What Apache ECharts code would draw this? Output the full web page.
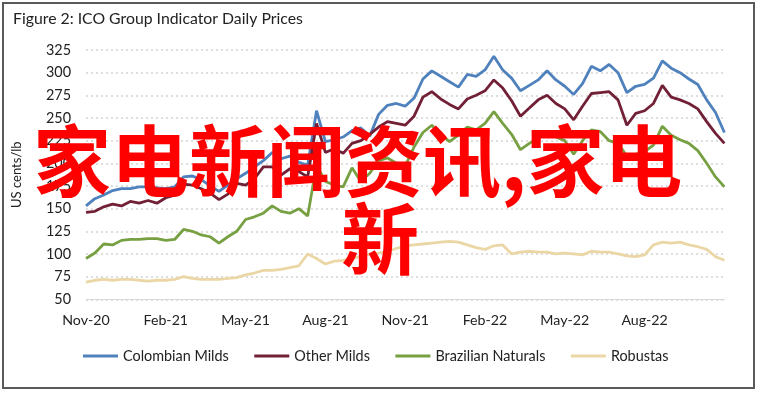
<!DOCTYPE html>
<html><head><meta charset="utf-8">
<script src="https://cdn.jsdelivr.net/npm/echarts@6/dist/echarts.min.js"></script>
<style>html,body{margin:0;padding:0;background:#fff}#c{width:759px;height:393px}</style>
</head><body><div id="c"></div>
<script>
// Tick labels every 3 months, starting Nov-20 (month index 0)
const tickLabels = ['Nov-20','Feb-21','May-21','Aug-21','Nov-21','Feb-22','May-22','Aug-22'];
const seriesNames = ['Colombian Milds','Other Milds','Brazilian Naturals','Robustas'];
const seriesColors = ['#4F81BD','#722035','#77A043','#EBD6A6'];
// Sampled roughly every 1/3 month (about 10 days), Nov-2020 .. end Oct-2022
const colombianMilds = [153,161,165,170,172,172,174,174,173,172,174,185,186,182,175,169,176,183,189,196,203,212,205,208,201,198,258,224,226,229,236,239,230,254,264,266,263,272,293,302,296,290,284,298,296,303,318,303,294,280,286,292,302,292,285,276,288,307,302,309,300,278,285,287,294,313,305,300,293,287,270,256,234];
const otherMilds = [146,147,152,155,153,158,156,159,156,162,165,177,176,172,167,160,166,178,176,183,196,196,187,194,191,185,244,212,216,211,222,225,232,240,246,244,242,252,273,279,271,265,260,271,275,280,292,283,269,252,261,270,275,266,260,248,263,277,278,279,270,242,255,258,266,286,273,270,266,260,246,233,222];
const brazilianNaturals = [95,101,111,110,115,116,116,117,117,115,116,127,125,121,119,112,119,125,138,141,145,153,147,145,150,142,198,180,176,174,195,180,189,203,206,200,197,218,234,242,232,224,231,240,237,244,257,244,232,215,222,228,233,229,225,210,225,237,235,225,222,208,210,213,220,241,231,226,222,214,200,185,174];
const robustas = [69,71,72,71,72,72,71,70,71,71,72,75,73,72,72,72,73,74,77,79,82,82,83,85,87,100,95,89,92,93,95,97,100,101,103,106,109,110,111,112,113,114,113,110,107,105,109,110,100,102,103,102,102,100,101,100,99,103,102,102,100,98,97,99,110,113,112,113,110,108,105,97,93];
const stepMonths = 1/3;
const overlayLine1 = '家电新闻资讯,家电';
const overlayLine2 = '新';

const allValues = [colombianMilds, otherMilds, brazilianNaturals, robustas];
const toPairs = arr => arr.map((v, i) => [i * stepMonths, v]);

const chart = echarts.init(document.getElementById('c'));
const font = 'Lato, "Open Sans", sans-serif';
chart.setOption({
  animation: false,
  backgroundColor: '#fff',
  title: {
    text: 'Figure 2: ICO Group Indicator Daily Prices',
    left: 8, top: 6,
    textStyle: { fontFamily: font, fontSize: 15.8, fontWeight: 'normal', color: '#222' }
  },
  grid: { left: 86, right: 34.6, top: 50, bottom: 93.7 },
  legend: {
    data: seriesNames,
    left: 78, top: 344,
    icon: 'rect', itemWidth: 35, itemHeight: 3, itemGap: 25.5,
    textStyle: { fontFamily: font, fontSize: 14.4, color: '#222' }
  },
  xAxis: {
    type: 'value', min: 0, max: 24, interval: 3,
    axisLine: { show: true, lineStyle: { color: '#d9d9d9', width: 1 } },
    axisTick: { show: false },
    splitLine: { show: false },
    axisLabel: {
      fontFamily: font, fontSize: 14.2, color: '#222', margin: 14,
      showMaxLabel: false,
      formatter: v => tickLabels[Math.round(v / 3)] || ''
    }
  },
  yAxis: {
    type: 'value', min: 50, max: 325, interval: 25,
    name: 'US cents/lb', nameLocation: 'middle', nameGap: 63, nameRotate: 90,
    nameTextStyle: { fontFamily: font, fontSize: 13, color: '#222' },
    axisLine: { show: false }, axisTick: { show: false },
    axisLabel: { fontFamily: font, fontSize: 14.4, color: '#222', margin: 15 },
    splitLine: { show: true, lineStyle: { color: '#d4d4d4', type: [2, 3], width: 1.5 } }
  },
  series: seriesNames.map((n, k) => ({
    name: n, type: 'line', showSymbol: false, symbol: 'none',
    data: toPairs(allValues[k]),
    lineStyle: { width: 2.8, color: seriesColors[k] },
    itemStyle: { color: seriesColors[k] },
    z: 2
  })),
  graphic: [
    { type: 'rect', shape: { x: 3, y: 3, width: 751, height: 385 },
      style: { fill: 'none', stroke: '#5a5a5a', lineWidth: 2 }, z: 100, silent: true },
    { type: 'text', left: 33, top: 122, z: 200, silent: true,
      style: { text: overlayLine1, fill: '#ff0000', font: 'bold 78px "Noto Sans CJK SC"' } },
    { type: 'text', left: 341, top: 200, z: 200, silent: true,
      style: { text: overlayLine2, fill: '#ff0000', font: 'bold 78px "Noto Sans CJK SC"' } }
  ]
});
</script></body></html>
